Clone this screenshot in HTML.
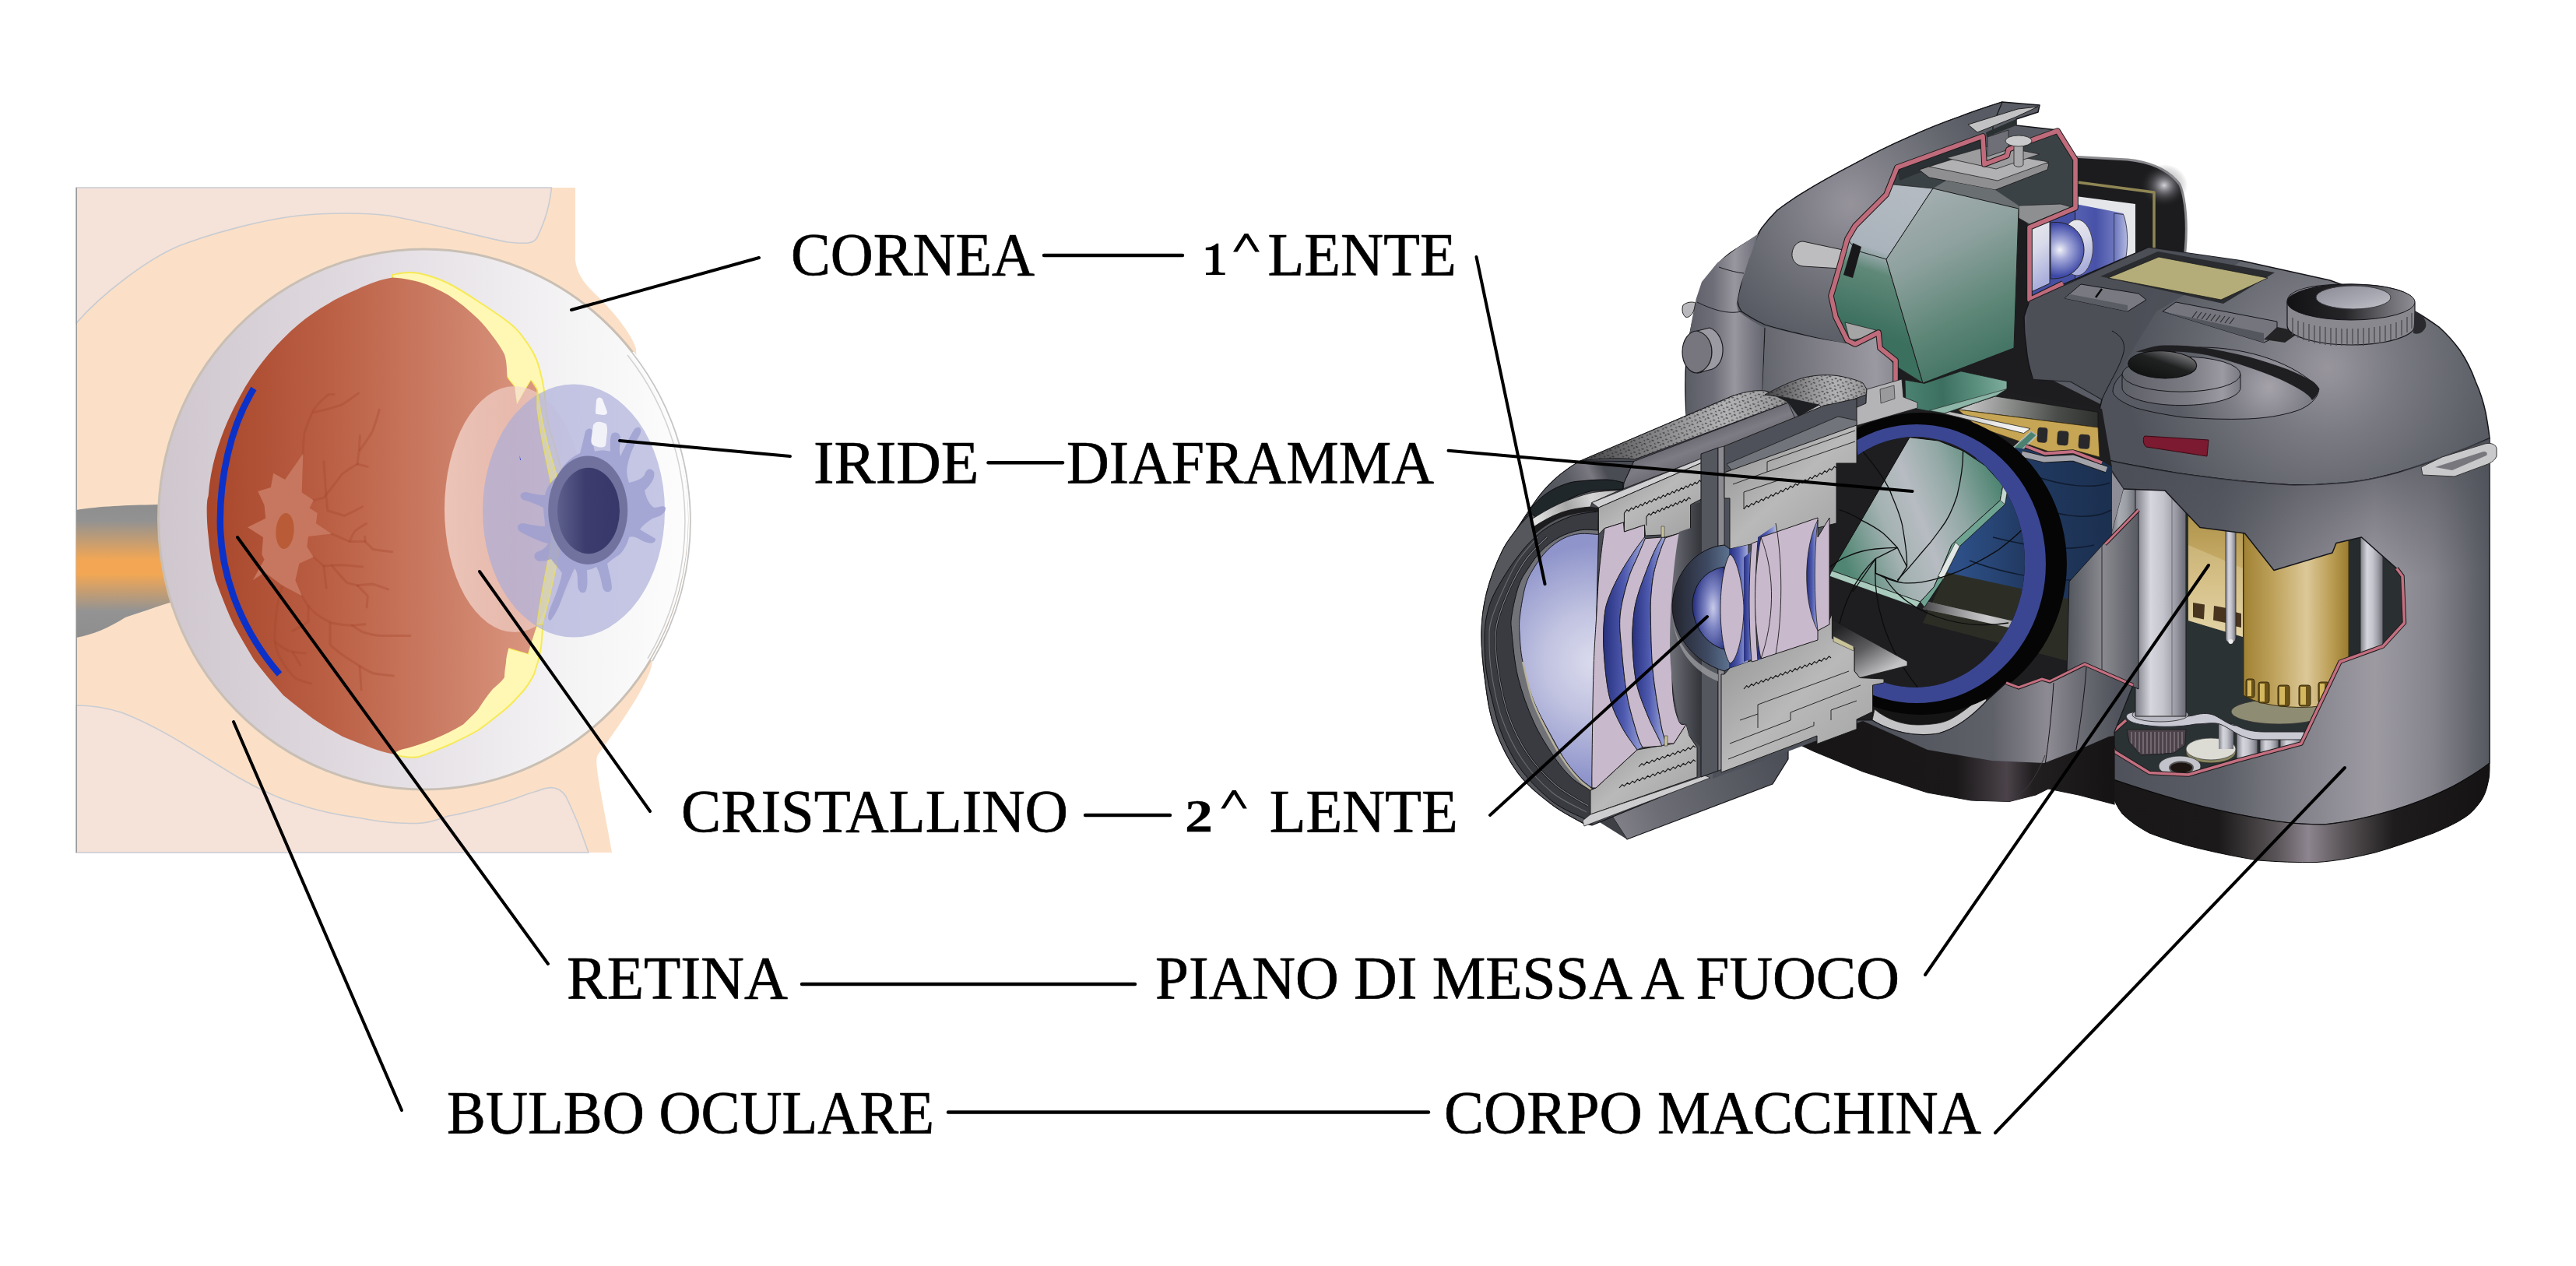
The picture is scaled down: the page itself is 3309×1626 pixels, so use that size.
<!DOCTYPE html>
<html><head><meta charset="utf-8"><title>Occhio - Macchina fotografica</title>
<style>
html,body{margin:0;padding:0;background:#fff;}
body{width:3309px;height:1626px;overflow:hidden;font-family:"Liberation Serif",serif;}
svg{display:block;position:absolute;left:0;top:0;}
text{font-family:"Liberation Serif",serif;font-size:79px;fill:#000;stroke:#000;stroke-width:0.7px;}
.ld{stroke:#000;stroke-width:4;stroke-linecap:round;fill:none;}.cn{stroke:#000;stroke-width:4.400;stroke-linecap:round;fill:none;}
</style></head><body>
<svg width="3309" height="1626" viewBox="0 0 3309 1626">
<defs>
<linearGradient id="gSclera" x1="0" y1="0" x2="1" y2="0">
<stop offset="0" stop-color="#cfc6ce"/><stop offset="0.45" stop-color="#e4dfe4"/><stop offset="0.8" stop-color="#f6f5f6"/><stop offset="1" stop-color="#fdfdfd"/>
</linearGradient>
<linearGradient id="gRed" x1="0" y1="0" x2="1" y2="0">
<stop offset="0" stop-color="#a8462b"/><stop offset="0.35" stop-color="#bb6045"/><stop offset="0.7" stop-color="#cd8068"/><stop offset="1" stop-color="#de9d88"/>
</linearGradient>
<linearGradient id="gNerve" x1="0" y1="0" x2="0" y2="1">
<stop offset="0" stop-color="#8e8e8e"/><stop offset="0.12" stop-color="#929292"/><stop offset="0.42" stop-color="#f3a754"/><stop offset="0.52" stop-color="#f3a754"/><stop offset="0.8" stop-color="#939393"/><stop offset="1" stop-color="#8e8e8e"/>
</linearGradient>
<linearGradient id="gLens" x1="0" y1="0" x2="1" y2="0">
<stop offset="0" stop-color="#f6dcd4" stop-opacity="0.75"/><stop offset="0.5" stop-color="#f3d6d0" stop-opacity="0.6"/><stop offset="1" stop-color="#efe6ee" stop-opacity="0.55"/>
</linearGradient>
<linearGradient id="gPupil" x1="0" y1="0" x2="1" y2="0">
<stop offset="0" stop-color="#5d5f8c"/><stop offset="0.45" stop-color="#3c3d6e"/><stop offset="1" stop-color="#37376a"/>
</linearGradient>
<!--DEFS-->
<radialGradient id="gBodyHi" cx="2377" cy="262" r="190" gradientUnits="userSpaceOnUse">
<stop offset="0" stop-color="#96939b"/><stop offset="0.5" stop-color="#74757d"/><stop offset="1" stop-color="#585b63"/>
</radialGradient>
<radialGradient id="gTopHi" cx="2990" cy="472" r="260" gradientUnits="userSpaceOnUse">
<stop offset="0" stop-color="#98959d"/><stop offset="0.35" stop-color="#787981"/><stop offset="1" stop-color="#4f525a"/>
</radialGradient>
<linearGradient id="gGrip" x1="2700" y1="0" x2="3200" y2="0" gradientUnits="userSpaceOnUse">
<stop offset="0" stop-color="#4d5058"/><stop offset="0.3" stop-color="#5a5d65"/><stop offset="0.52" stop-color="#84838b"/><stop offset="0.7" stop-color="#9d9aa2"/><stop offset="0.85" stop-color="#85848c"/><stop offset="1" stop-color="#54575f"/>
</linearGradient>
<linearGradient id="gBase" x1="2700" y1="0" x2="3200" y2="0" gradientUnits="userSpaceOnUse">
<stop offset="0" stop-color="#191717"/><stop offset="0.3" stop-color="#1b1919"/><stop offset="0.45" stop-color="#5a5558"/><stop offset="0.53" stop-color="#8d858f"/><stop offset="0.62" stop-color="#5a5558"/><stop offset="0.75" stop-color="#1e1c1c"/><stop offset="1" stop-color="#141212"/>
</linearGradient>
<linearGradient id="gSilver" x1="0" y1="0" x2="1" y2="0">
<stop offset="0" stop-color="#7e7e88"/><stop offset="0.3" stop-color="#d6d6de"/><stop offset="0.55" stop-color="#c4c4cc"/><stop offset="0.8" stop-color="#9a9aa4"/><stop offset="1" stop-color="#6a6a74"/>
</linearGradient>
<linearGradient id="gGold" x1="0" y1="0" x2="1" y2="0">
<stop offset="0" stop-color="#a18234"/><stop offset="0.3" stop-color="#bfa45e"/><stop offset="0.6" stop-color="#dcc898"/><stop offset="0.85" stop-color="#b89a50"/><stop offset="1" stop-color="#9a7c30"/>
</linearGradient>
<linearGradient id="gGold2" x1="0" y1="0" x2="0" y2="1">
<stop offset="0" stop-color="#a88c42"/><stop offset="0.5" stop-color="#c8ad6a"/><stop offset="1" stop-color="#e3d3a4"/>
</linearGradient>
<linearGradient id="gPrism" x1="2440" y1="240" x2="2560" y2="480" gradientUnits="userSpaceOnUse">
<stop offset="0" stop-color="#a9b1b4"/><stop offset="0.35" stop-color="#8fa29f"/><stop offset="0.7" stop-color="#5d8677"/><stop offset="1" stop-color="#3c6f5f"/>
</linearGradient>
<linearGradient id="gPrismL" x1="2440" y1="240" x2="2380" y2="420" gradientUnits="userSpaceOnUse">
<stop offset="0" stop-color="#b3bac2"/><stop offset="0.45" stop-color="#aab3bb"/><stop offset="0.6" stop-color="#5f8878"/><stop offset="1" stop-color="#3b6f5e"/>
</linearGradient>
<radialGradient id="gGlass" cx="2050" cy="850" r="150" gradientUnits="userSpaceOnUse">
<stop offset="0" stop-color="#dcdcee"/><stop offset="0.45" stop-color="#c0c2e0"/><stop offset="1" stop-color="#8f95cb"/>
</radialGradient>
<radialGradient id="gBall" cx="0.65" cy="0.5" r="0.6">
<stop offset="0" stop-color="#c9cbea"/><stop offset="0.4" stop-color="#7f86c4"/><stop offset="1" stop-color="#2c3685"/>
</radialGradient>
<linearGradient id="gBlueGap" x1="0" y1="0" x2="1" y2="0">
<stop offset="0" stop-color="#27307e"/><stop offset="0.5" stop-color="#4f5bb0"/><stop offset="1" stop-color="#a4acdc"/>
</linearGradient>
<linearGradient id="gMetal" x1="0" y1="0" x2="1" y2="1">
<stop offset="0" stop-color="#8e8e8e"/><stop offset="0.5" stop-color="#b9b9b9"/><stop offset="1" stop-color="#a0a0a0"/>
</linearGradient>
<linearGradient id="gBarrel" x1="2100" y1="560" x2="2130" y2="640" gradientUnits="userSpaceOnUse">
<stop offset="0" stop-color="#4a4c54"/><stop offset="0.5" stop-color="#7d7b83"/><stop offset="1" stop-color="#55575f"/>
</linearGradient>
<linearGradient id="gBowl" x1="0" y1="0" x2="1" y2="0">
<stop offset="0" stop-color="#23252e"/><stop offset="0.6" stop-color="#3d4860"/><stop offset="1" stop-color="#5d7390"/>
</linearGradient>
<linearGradient id="gBlade" x1="2360" y1="700" x2="2570" y2="620" gradientUnits="userSpaceOnUse">
<stop offset="0" stop-color="#4f8572"/><stop offset="0.3" stop-color="#a4b2b2"/><stop offset="0.5" stop-color="#b7bcc2"/><stop offset="0.72" stop-color="#93a9a6"/><stop offset="1" stop-color="#4c8370"/>
</linearGradient>
<linearGradient id="gNavy" x1="2520" y1="0" x2="2720" y2="0" gradientUnits="userSpaceOnUse">
<stop offset="0" stop-color="#2d4f86"/><stop offset="0.4" stop-color="#213a62"/><stop offset="1" stop-color="#1b2f4e"/>
</linearGradient>
<linearGradient id="gFront" x1="2400" y1="0" x2="2720" y2="0" gradientUnits="userSpaceOnUse">
<stop offset="0" stop-color="#4e5159"/><stop offset="0.5" stop-color="#5f6169"/><stop offset="0.72" stop-color="#8d8a93"/><stop offset="0.85" stop-color="#6b6c74"/><stop offset="1" stop-color="#50535b"/>
</linearGradient>
<linearGradient id="gWall" x1="2658" y1="0" x2="2745" y2="0" gradientUnits="userSpaceOnUse">
<stop offset="0" stop-color="#55585f"/><stop offset="0.5" stop-color="#8a8990"/><stop offset="1" stop-color="#5b5d65"/>
</linearGradient>
<pattern id="pDots" width="11" height="9" patternUnits="userSpaceOnUse" patternTransform="rotate(-22)">
<rect width="11" height="9" fill="#b2b2b4"/>
<path d="M1 1.500l2.500 1.200M6.500 5l2 1.800M2.500 6.500l1.800 -1M8 1l1 1.500" stroke="#2c2c2e" stroke-width="1.200" fill="none"/>
</pattern>
<linearGradient id="gTexShade" x1="0" y1="0" x2="1" y2="0">
<stop offset="0" stop-color="#1c1c1e" stop-opacity="0.75"/><stop offset="0.35" stop-color="#2a2a2c" stop-opacity="0.35"/><stop offset="0.7" stop-color="#555" stop-opacity="0"/><stop offset="1" stop-color="#333" stop-opacity="0.25"/>
</linearGradient>
<linearGradient id="gUnder" x1="2050" y1="1060" x2="2297" y2="960" gradientUnits="userSpaceOnUse">
<stop offset="0" stop-color="#8a8890"/><stop offset="0.3" stop-color="#6c6d75"/><stop offset="1" stop-color="#4a4d55"/>
</linearGradient>
<linearGradient id="gCav" x1="2145" y1="0" x2="2185" y2="0" gradientUnits="userSpaceOnUse">
<stop offset="0" stop-color="#6f7078"/><stop offset="1" stop-color="#33353b"/>
</linearGradient>
<radialGradient id="gVfHi" cx="0.5" cy="0.5" r="0.5"><stop offset="0" stop-color="#e8e8ee" stop-opacity="0.9"/><stop offset="0.4" stop-color="#a0a0a8" stop-opacity="0.5"/><stop offset="1" stop-color="#303034" stop-opacity="0"/></radialGradient>
<linearGradient id="gSeamShade" x1="2900" y1="600" x2="2915" y2="760" gradientUnits="userSpaceOnUse"><stop offset="0" stop-color="#4a4d55" stop-opacity="0.65"/><stop offset="0.5" stop-color="#4a4d55" stop-opacity="0.3"/><stop offset="1" stop-color="#4a4d55" stop-opacity="0"/></linearGradient>
<linearGradient id="gBase2" x1="2310" y1="0" x2="2716" y2="0" gradientUnits="userSpaceOnUse"><stop offset="0" stop-color="#171516"/><stop offset="0.5" stop-color="#1a1819"/><stop offset="0.66" stop-color="#4b4349"/><stop offset="0.74" stop-color="#221f21"/><stop offset="1" stop-color="#151314"/></linearGradient>
<linearGradient id="gShelf" x1="2372" y1="800" x2="2412" y2="868" gradientUnits="userSpaceOnUse"><stop offset="0" stop-color="#232325"/><stop offset="0.5" stop-color="#5c5c5e"/><stop offset="1" stop-color="#c2c2c4"/></linearGradient>
<linearGradient id="gRail" x1="2520" y1="520" x2="2695" y2="540" gradientUnits="userSpaceOnUse"><stop offset="0" stop-color="#c9c9c9"/><stop offset="0.35" stop-color="#8a8c8a"/><stop offset="0.7" stop-color="#4a4c4a"/><stop offset="1" stop-color="#2e302e"/></linearGradient>
<linearGradient id="gWhiteBar" x1="2497" y1="530" x2="2608" y2="552" gradientUnits="userSpaceOnUse"><stop offset="0" stop-color="#b5b5b5"/><stop offset="0.6" stop-color="#e9e9e9"/><stop offset="1" stop-color="#f6f6f6"/></linearGradient>
<linearGradient id="gTealPlate" x1="2450" y1="500" x2="2578" y2="490" gradientUnits="userSpaceOnUse"><stop offset="0" stop-color="#4a8170"/><stop offset="0.35" stop-color="#3c6f5f"/><stop offset="0.7" stop-color="#5b8f7e"/><stop offset="1" stop-color="#7fae9e"/></linearGradient>
<linearGradient id="gPanel" x1="2265" y1="480" x2="2435" y2="470" gradientUnits="userSpaceOnUse"><stop offset="0" stop-color="#63656d"/><stop offset="0.5" stop-color="#84838b"/><stop offset="0.85" stop-color="#9a98a0"/><stop offset="1" stop-color="#8a8890"/></linearGradient>
<linearGradient id="gBevel" x1="1975" y1="640" x2="2060" y2="600" gradientUnits="userSpaceOnUse"><stop offset="0" stop-color="#50525a"/><stop offset="0.5" stop-color="#5c5e66"/><stop offset="0.8" stop-color="#7a7880"/><stop offset="1" stop-color="#4a4c54"/></linearGradient>
<linearGradient id="gLipPlate" x1="1975" y1="670" x2="2075" y2="632" gradientUnits="userSpaceOnUse"><stop offset="0" stop-color="#e2e2e2"/><stop offset="0.4" stop-color="#a5a5a5"/><stop offset="0.7" stop-color="#d5d5d5"/><stop offset="1" stop-color="#bdbdbd"/></linearGradient>
<linearGradient id="gEyeLens" x1="0" y1="0" x2="0.3" y2="1"><stop offset="0" stop-color="#ececec"/><stop offset="0.5" stop-color="#d9daea"/><stop offset="1" stop-color="#a9aedb"/></linearGradient>
<linearGradient id="gEyeBlk" x1="0" y1="0" x2="1" y2="0"><stop offset="0" stop-color="#6b75bd"/><stop offset="1" stop-color="#b3b9e0"/></linearGradient>
<radialGradient id="gBall2" cx="2646" cy="321" r="34" gradientUnits="userSpaceOnUse"><stop offset="0" stop-color="#f2f2f8"/><stop offset="0.35" stop-color="#a6abda"/><stop offset="1" stop-color="#3d48a6"/></radialGradient>
<linearGradient id="gDialTop" x1="0" y1="0" x2="1" y2="0"><stop offset="0" stop-color="#121214"/><stop offset="0.45" stop-color="#252528"/><stop offset="0.8" stop-color="#6d6d73"/><stop offset="1" stop-color="#8e8e94"/></linearGradient>
<linearGradient id="gDialIn" x1="0" y1="0" x2="1" y2="1"><stop offset="0" stop-color="#8a8a94"/><stop offset="0.6" stop-color="#a9a9b3"/><stop offset="1" stop-color="#c3c3cb"/></linearGradient>
<linearGradient id="gEyeBlue" x1="2666" y1="0" x2="2731" y2="0" gradientUnits="userSpaceOnUse"><stop offset="0" stop-color="#5660b2"/><stop offset="0.4" stop-color="#4752a8"/><stop offset="0.75" stop-color="#6b75bd"/><stop offset="1" stop-color="#8e96cf"/></linearGradient>
<radialGradient id="gCollar" cx="2915" cy="497" r="120" gradientUnits="userSpaceOnUse"><stop offset="0" stop-color="#a5a2aa"/><stop offset="0.45" stop-color="#7d7d85"/><stop offset="1" stop-color="#585b63"/></radialGradient>
<linearGradient id="gDialSide" x1="2726" y1="0" x2="2878" y2="0" gradientUnits="userSpaceOnUse"><stop offset="0" stop-color="#5d5f67"/><stop offset="0.55" stop-color="#7b7b83"/><stop offset="0.85" stop-color="#9b99a1"/><stop offset="1" stop-color="#7a7a82"/></linearGradient>
<linearGradient id="gModeTop" x1="0" y1="1" x2="0.8" y2="0"><stop offset="0" stop-color="#0c0e0e"/><stop offset="0.6" stop-color="#202222"/><stop offset="0.9" stop-color="#6a6a6c"/><stop offset="1" stop-color="#8a8a8c"/></linearGradient>
<linearGradient id="gBodyLeft" x1="2165" y1="0" x2="2267" y2="0" gradientUnits="userSpaceOnUse"><stop offset="0" stop-color="#5a5c64"/><stop offset="0.35" stop-color="#6e6e78"/><stop offset="0.62" stop-color="#98969e"/><stop offset="0.85" stop-color="#777781"/><stop offset="1" stop-color="#63656d"/></linearGradient>

<!--/DEFS-->
</defs>
<rect x="0" y="0" width="3309" height="1626" fill="#ffffff"/>

<!--EYE-->
<g id="eye">
<!-- peach skin -->
<path d="M98 241H739V334C741 350 748 362 766 379C790 402 812 430 817 448L838 849C838 868 805 920 769 968C764 975 765 984 781 1067L786 1095H98Z" fill="#fbe0c7"/>
<!-- pale pink upper -->
<path d="M98 241H708.500C706 262 702 280 690 305C686 312 680 314 652 311C620 305 560 288 500 277C470 273 420 273 383 277C340 282 280 297 232 315C190 332 130 378 98 415Z" fill="#f5e2d8" stroke="#c9ccd2" stroke-width="1.6"/>
<!-- pale pink lower -->
<path d="M98 906C120 906 140 910 156 915C190 928 215 943 232 953C260 970 285 986 307 999C335 1015 360 1026 383 1033C410 1042 435 1047 459 1050C490 1056 515 1058 535 1057.500C555 1057 565 1051 576 1048C600 1044 625 1037 652 1029C665 1025 678 1019 690 1016C700 1012 707 1011 712 1012C720 1014 724 1018 727 1023C733 1035 738 1047 743 1059L756 1095H98Z" fill="#f5e2d8" stroke="#c9ccd2" stroke-width="1.6"/>
<rect x="97.400" y="241" width="1.6" height="854" fill="#9a9a9a"/>
<!-- optic nerve -->
<path d="M98 655C130 650 160 649 203 648L230 770C200 780 175 788 161 793C140 806 120 815 98 819Z" fill="url(#gNerve)"/>
<!-- sclera -->
<ellipse cx="544.500" cy="667" rx="341" ry="347" fill="url(#gSclera)" stroke="#c9bfb4" stroke-width="3"/>
<path d="M812 453A341 347 0 0 1 838 849" fill="none" stroke="#fff" stroke-width="5"/>
<path d="M812 453A341 347 0 0 1 838 849" fill="none" stroke="#c6c6c6" stroke-width="1.8"/>
<path d="M806 456A336 342 0 0 1 832 846" fill="none" stroke="#d2d2d2" stroke-width="1.500"/>
<!-- yellow band top -->
<path d="M504 353C516 350 528 349 538 351C552 354 564 358 576 364C590 371 602 379 614 387C628 396 640 404 652 413C660 419 666 425 671 432C677 440 682 447 686 455C690 463 693 472 695 482C697 489 698 496 699 502C700 509 700.500 516 701 523C702 533 704 543 707 554C710 564 713 574 716 584L722 607L708 599C704 584 700 569 697 554C695 543 694 533 693 523C692 515 691 507 689.500 500.500C688 496 685 492 682 489C679 493 677 498 674 502C671 508 668 514 664 519.500C662 512 661 504 661 497C658 493 654 489 652 485L600 420L504 357Z" fill="#fff8b4" stroke="#f6ea55" stroke-width="2"/>
<!-- yellow band bottom -->
<path d="M697 802C697 812 696 822 695 832C693 844 690 855 686 866C681 876 675 885 667 893C660 901 652 909 644 915C634 923 624 931 614 938C602 945 589 951 576 957C564 962 551 968 538 972C528 974 516 972 506 969L506 960L600 915L657 809C659 812 660 815 661 819C659 823 656 828 653.500 832C662 836 672 836 678 839.500C680 830 684 815 690 802Z" fill="#fff8b4" stroke="#f6ea55" stroke-width="2"/>
<!-- red inner -->
<path d="M504.600 356.500C516 357 527 359 538 362C551 366 564 372 576 379C590 388 602 398 614 409.500C621 416 627 424 633 432C639 440 644 447 648 455C651 464 651 474 651.600 485C654 489 658 493 661 497L664 519.500L674 502L682 489L689.500 500.500C693 530 699 560 708 590C715 612 721 640 721 660C721 700 711 740 704 770C699 790 692 800 690 802L678 839.500L653.500 832C652 838 650 845 650 851C649 857 648 864 648 870C644 876 638 880 633 885C626 893 620 902 614 911.600C608 918 601 925 595 930.500C583 938 570 944 557 949.500C546 954 534 958 523 961C517 962 511 964 504.600 968.400C495 967 487 964 478 961C465 956 452 951 440 946C427 939 414 931 402 923C389 913 376 903 364 893C351 878 338 863 326 847C317 832 308 817 300 802C291 783 284 764 277 745C272 726 269 707 267.600 688C266 675 265.500 663 265.700 650C266 646 266 641 267.600 637C269 619 272 601 277 584C281 570 286 556 292 542C299 526 307 511 315 497C324 482 334 468 345 455C357 441 370 428 383 417C395 407 408 398 421 390.600C433 383 446 377 459 371.600C474 364 489 359 504.600 356.500Z" fill="url(#gRed)"/>
<!-- vessels -->
<g fill="none" stroke="#a3452a" stroke-opacity="0.33" stroke-width="3" stroke-linecap="round" stroke-linejoin="round">
<path d="M389.300 583C389 574 390 565 391 556.300C394 546 398 536 402.600 526.400C408 519 415 512 422.500 506.500H429"/>
<path d="M402.600 529.700C415 527 427 524 439 519.800C447 515 454 510 460.600 505"/>
<path d="M402.600 642.500L415.900 639.200C424 629 432 619 439 609.300C445 604 452 600 459 596C461 584 462 572 462.300 559.600"/>
<path d="M459 596L472.200 599.400"/>
<path d="M462.300 578C468 570 474 562 478.900 553C482 544 485 535 487.200 526.400"/>
<path d="M415.900 592.700C417 608 418 624 419.200 639.200L420.800 655.800C428 658 435 660 442.400 662.400C450 659 458 655 465.600 650.800"/>
<path d="M425.800 685.600C434 689 441 692 449 695.500C451 691 453 686 455.700 682.300C460 679 465 675 470.600 672.300"/>
<path d="M449 695.500H468.900C472 699 476 702 478.900 705.500C487 707 495 708 503.700 708.800"/>
<path d="M468.900 689V695.500"/>
<path d="M402.600 715.400C407 719 411 723 415.900 727C424 726 431 725.500 439 725.400C448 726 457 727 465.600 728"/>
<path d="M415.900 727C417 736 418 746 419.200 755.200"/>
<path d="M426 726C432 734 439 741 445.700 748.600L459 751.900C463 756 468 761 472.200 765.200L471.200 780"/>
<path d="M459 751.900C466 751 472 750.500 478.900 750.300C486 752 492 755 498.800 756.900"/>
<path d="M387.700 765.200C390 770 393 774 396 778.400C399 782 402 785 405.900 788.400C412 793 419 797 425.800 800C435 802 444 803 452.300 803.300C458 803 463 802 468.900 801.700"/>
<path d="M452.300 803.300C457 806 461 809 465.600 811.600C473 814 481 816 488.800 816.600H527"/>
<path d="M424 800C424 810 424 819 424 828C428 832 432 835 435.800 838C442 843 449 847 455.700 851.400C463 856 471 861 478.900 864.700C488 866 497 867 505.400 868"/>
<path d="M462 856C463 866 463.500 876 464 886"/>
<path d="M396 778.400V798.300C390 803 383 807 376 810"/>
<path d="M362.800 752C360 761 358 770 356.200 778.400C354 793 353 807 352.800 821.500C354 830 356 838 359.500 844.800C365 855 372 864 379.400 871.300C386 874 392 876 399.300 878"/>
<path d="M354 825C360 830 366 834 372.700 836.500C379 838 386 838.500 392.600 838.800"/>
<path d="M376 838C380 844 383 849 386 854.700"/>
</g>
<!-- optic disc star -->
<path d="M389.300 582.800L387.700 632.500L402.600 642.500L397.600 652.400L407.600 659L406 672.300L425.800 685.600L396 689L394.300 702.200L402.600 715.400L384.400 723.700L379.400 745.300L387.700 765.200L362.800 751.900L340 735L324.700 745.300L339.600 718.800L336.300 712L338 690L318 677.300L341.200 665.700L339.600 649L331.300 630.900L347.900 625.900L351.200 607.700L366.100 616Z" fill="#c7775f"/>
<ellipse cx="366" cy="682" rx="11.600" ry="23" fill="#b95b37" transform="rotate(4 366 682)"/>
<!-- blue retina arc -->
<path d="M326 499C296 548 281 615 283 680C286 750 315 815 359 866" fill="none" stroke="#0b31c9" stroke-width="8.400"/>
<!-- lens -->
<ellipse cx="661" cy="654" rx="90" ry="158" fill="url(#gLens)"/>
<!-- iris -->
<ellipse cx="737" cy="656" rx="117" ry="162.500" fill="#a9abd9" fill-opacity="0.66"/>
<!-- zonule over iris -->
<path d="M690 500C694 530 700 560 709 590C716 612 722 640 722 660C722 700 712 740 705 770C700 790 697 800 697 802L690 802C692 780 700 740 706 710C712 680 712 640 706 612C700 585 694 555 690 525Z" fill="#e9e7a0" fill-opacity="0.55" stroke="#e9df55" stroke-opacity="0.8" stroke-width="1.500"/>
<!-- iris pattern -->
<path d="M716 612C722 598 732 588 745 582C748 572 750 562 752 554C756 548 762 550 762 558C762 566 762 574 764 580C770 578 778 578 784 580C784 572 783 562 786 557C792 553 798 557 797 566C796 574 795 580 797 586C802 576 808 562 815 551C822 545 826 552 821 560C814 572 808 586 806 598C804 606 806 614 808 620C816 618 824 616 828 610C830 602 836 600 840 606C842 614 836 622 828 630C830 640 834 648 840 652C846 652 852 648 855 652C856 660 846 664 838 666C832 670 826 674 822 680C828 684 836 688 842 692C842 700 832 698 824 694C818 690 812 688 808 690C806 698 802 706 796 712C790 716 784 720 780 724C782 734 786 746 786 756C784 762 776 762 774 754C772 744 770 734 766 728C762 730 758 732 754 732C754 742 756 752 752 760C746 764 742 758 742 750C742 742 742 734 738 730C734 738 728 752 722 768C718 780 712 792 707 797C702 796 704 788 708 778C714 764 720 748 722 736C718 730 712 724 708 718C702 720 696 722 690 720C684 716 686 710 692 708C698 706 702 702 704 698C694 696 682 690 670 684C662 680 664 672 672 672C682 674 692 676 700 676C700 668 698 660 698 652C690 648 680 644 672 642C666 638 668 632 676 632C684 634 692 636 700 636C702 626 708 618 716 612Z" fill="#9c9dd0" fill-opacity="0.8"/>
<!-- pupil -->
<ellipse cx="755.200" cy="655.200" rx="51" ry="69.700" fill="#71729d"/>
<ellipse cx="756" cy="656" rx="40" ry="55.300" fill="url(#gPupil)"/>
<!-- highlights -->
<path d="M766 514C768 509 772 510 774 513L780 529C780 532 778 533 775 533L767 532C765 532 765 530 765 528Z" fill="#f4f4fa"/>
<path d="M762 546C764 542 768 541 772 542L778 544C780 546 780 550 780 555L778 572C776 575 772 575 768 574L762 572C759 570 759 566 760 560Z" fill="#f1f1f8"/>
<path d="M667.500 585L669 591L668 591Z" fill="#2743c4"/>
</g>

<!--/EYE-->

<!--CAMERA-->
<g id="camera" stroke-linejoin="round">
<!-- ===== viewfinder eyepiece ===== -->
<path d="M2660 201L2733 205C2762 208 2786 218 2800 237C2808 256 2810 290 2807 323L2800 345L2660 368Z" fill="#1c1c1e" stroke="#8a8a8e" stroke-width="3"/>
<ellipse cx="2780" cy="238" rx="30" ry="27" fill="url(#gVfHi)"/>
<path d="M2668 234L2767 247V330" fill="none" stroke="#8f8654" stroke-width="3.500"/>
<path d="M2666 252L2743 262V328L2666 362Z" fill="#e4e6ea"/>
<path d="M2666 262L2727.700 274L2731 330L2666 362Z" fill="url(#gEyeBlue)"/>
<path d="M2715.600 274L2727.700 275.500C2733 290 2734 310 2731 330L2715.600 337Z" fill="url(#gEyeBlk)" stroke="#223" stroke-width="0.800"/>
<!-- eyepiece lens cell -->
<path d="M2590 292L2665 266V362L2606 388L2590 380Z" fill="#4550a4"/>
<path d="M2606 293L2633 282.500V364L2606 376.500C2595 350 2595 318 2606 293Z" fill="url(#gEyeLens)" stroke="#222" stroke-width="1"/>
<ellipse cx="2668" cy="318" rx="20.500" ry="36" fill="url(#gEyeLens)" stroke="#333" stroke-width="0.800"/>
<path d="M2634 286C2660 282 2677 300 2677 321C2677 342 2660 359 2634 358Z" fill="url(#gBall2)" stroke="#222" stroke-width="1"/>
<!-- ===== main body (left/prism housing) ===== -->
<path d="M2572 131L2620 135L2618 144L2590 153V161L2643 167L2665 205V266L2607 292V384L2760 318L2770 420L2700 640L2560 700L2330 620L2167 545C2165 520 2164 490 2166 463C2168 440 2172 420 2178 397C2181 385 2184 376 2187 370C2192 360 2197 351 2203 343C2211 334 2220 326 2230 320C2240 313 2249 308 2257 303C2259 299 2261 296 2263 293C2269 285 2276 277 2283 270C2294 262 2305 254 2317 247C2338 234 2360 222 2383 210C2405 198 2427 187 2450 177C2472 167 2494 158 2517 150C2535 143 2553 137 2572 131Z" fill="#595c64" stroke="#15151a" stroke-width="1.500"/>
<path d="M2572 131C2553 137 2535 143 2517 150C2494 158 2472 167 2450 177C2427 187 2405 198 2383 210C2360 222 2338 234 2317 247C2305 254 2294 262 2283 270C2276 277 2269 285 2263 293C2259 299 2250 320 2247 330C2242 345 2238 355 2237 363C2234 375 2232 382 2232 387C2233 393 2235 397 2237 400C2246 406 2256 412 2267 417C2283 422 2300 426 2317 430C2332 434 2348 437 2363 440L2440 445L2560 300L2560 160Z" fill="url(#gBodyHi)" stroke="#15151a" stroke-width="1.200"/>
<path d="M2259 300L2233 317.600L2206 337.500L2186 362L2178.700 384L2173 413L2167.600 448L2165.400 490L2166.500 548L2264 548L2267 421.500C2255 415 2243 408 2233 399.400L2230.700 390.600L2235 368.500L2246 335.300Z" fill="url(#gBodyLeft)"/>
<path d="M2267 421L2262.700 540" fill="none" stroke="#1a1a1e" stroke-width="1.200"/>
<path d="M2208 343C2222 348 2232 350 2240 351" fill="none" stroke="#1a1a1e" stroke-width="1"/>
<path d="M2180 388C2200 398 2220 404 2237 400" fill="none" stroke="#1a1a1e" stroke-width="1"/>
<path d="M2268 419C2300 428 2340 437 2380 442L2383 442L2413 427L2415 447L2433 463L2435 512L2398 500L2340 530L2262 545Z" fill="url(#gPanel)"/>
<!-- small lug + round button -->
<path d="M2162 392C2166 388 2174 387 2178 389L2176 398C2174 405 2168 409 2165 407C2161 404 2160 397 2162 392Z" fill="#b9b9bd" stroke="#222" stroke-width="1"/>
<ellipse cx="2180" cy="452" rx="19" ry="27" fill="#77767e" stroke="#1a1a1e" stroke-width="1.200"/>
<path d="M2180 425L2196 421C2208 425 2214 440 2213 452C2212 466 2204 474 2196 475L2180 479C2192 476 2199 465 2199 452C2199 439 2192 428 2180 425Z" fill="#9b99a1" stroke="#1a1a1e" stroke-width="1.200"/>
<!-- slot -->
<path d="M2316 310L2372 322L2365 345L2316 342C2307 341 2301 334 2302 325C2303 316 2309 310 2316 310Z" fill="#bdbdc0" stroke="#222" stroke-width="1"/>
<!-- ===== hot shoe ===== -->
<path d="M2528 160L2592 140L2618 137L2590 150L2540 170Z" fill="#c2c2c4" stroke="#222" stroke-width="1"/>
<path d="M2551 170L2590 153V161L2552 176Z" fill="#2a3032"/>

<!-- ===== interior black (mirror box / behind prism) ===== -->
<path d="M2435 470L2470 492L2587 447L2593 268L2607 292V390L2620 480L2700 520V660L2560 720L2400 560L2435 520Z" fill="#1d1d1f"/>
<!-- ===== prism cutaway interior ===== -->
<path d="M2437 215L2547 175L2549 211L2578 200L2580 192L2610 180L2643 168L2666 205V267L2607 292L2593 268L2483 242L2432 237Z" fill="#3b4246"/>
<path d="M2437 215L2547 176V196L2465 222L2440 232Z" fill="#2a3033"/>
<!-- plates -->
<path d="M2465 218L2543 193L2632 210L2630 218L2563 244L2478 228Z" fill="#8f8f91" stroke="#222" stroke-width="1"/>
<path d="M2478 214L2545 193L2632 208L2566 232Z" fill="#b1b1b3" stroke="#222" stroke-width="0.800"/>
<path d="M2500 203L2560 186L2620 198L2564 217Z" fill="#9c9c9e" stroke="#222" stroke-width="0.800"/>
<path d="M2553 176L2580 167V192L2553 201Z" fill="#6f6f77" stroke="#222" stroke-width="0.800"/>
<!-- prism top face -->
<path d="M2593 264L2647 262L2661 266L2607 288L2593 280Z" fill="#8d8f91" stroke="#222" stroke-width="0.800"/>
<path d="M2500 232L2563 244L2593 264V270L2483 242Z" fill="#6a6f72"/>
<!-- prism faces -->
<path d="M2432 237L2483 242L2423 333L2385 322L2373 307L2383 290L2423 250Z" fill="url(#gPrismL)" stroke="#1a1a1a" stroke-width="0.800"/>
<path d="M2385 322L2423 333L2470 492L2435 470L2415 447L2413 427L2383 442L2373 437L2358 407L2352 380L2358 360L2373 307Z" fill="url(#gPrismL)" stroke="#1a1a1a" stroke-width="0.800"/>
<path d="M2483 242L2593 268L2587 447L2470 492L2423 333Z" fill="url(#gPrism)" stroke="#1a1a1a" stroke-width="1"/>
<path d="M2370 414L2410 424L2395 434L2376 437Z" fill="#a5a5a5" stroke="#222" stroke-width="0.800"/>
<!-- black connector + slot end -->
<path d="M2380 312L2391 317L2380 357L2368 353Z" fill="#18181a"/>
<!-- pink outline of prism cut -->
<path d="M2435 512V463L2415 447L2413 427L2383 442L2373 437L2358 407L2352 380L2358 360L2373 307L2383 290L2423 250L2427 240L2437 215L2547 175L2549 211L2578 200L2580 192L2610 180L2643 168L2666 205V267L2607 292V385L2650 364" fill="none" stroke="#1a1a1a" stroke-width="7.600"/>
<path d="M2435 512V463L2415 447L2413 427L2383 442L2373 437L2358 407L2352 380L2358 360L2373 307L2383 290L2423 250L2427 240L2437 215L2547 175L2549 211L2578 200L2580 192L2610 180L2643 168L2666 205V267L2607 292V385L2650 364" fill="none" stroke="#bf6b7b" stroke-width="5.600"/>
<!-- screw -->
<path d="M2587 183H2599V212C2596 215 2590 215 2587 212Z" fill="#a9a9ab" stroke="#222" stroke-width="0.800"/>
<ellipse cx="2593" cy="181" rx="17" ry="7" fill="#c9c9cb" stroke="#222" stroke-width="0.800"/>
<!-- ===== top plate ===== -->
<path d="M2607 387L2760 318L2880 335L2993 360L3102 400C3113 406 3123 413 3133 420C3143 429 3152 439 3160 450C3168 462 3175 476 3180 490C3186 503 3190 516 3193 530C3195 541 3197 552 3198 563C3160 580 3120 595 3080 607C3058 613 3036 618 3013 620C2991 622 2969 623 2947 623C2925 622 2902 620 2880 618C2851 615 2822 611 2793 607C2763 602 2733 597 2703 590L2697 580C2693 570 2692 560 2693 552C2694 538 2697 525 2700 513L2660 490L2612 487C2607 474 2604 460 2603 447C2601 434 2600 420 2600 407C2602 400 2604 394 2607 387Z" fill="url(#gTopHi)" stroke="#15151a" stroke-width="1.500"/>
<path d="M2607 387L2760 318L2880 335L2770 400L2700 513L2660 490L2612 487C2604 460 2600 420 2607 387Z" fill="#4c4f57" opacity="0.85"/>
<path d="M2713 425C2726 432 2730 440 2728 452C2724 470 2710 490 2700 513" fill="none" stroke="#15151a" stroke-width="1"/>
<!-- LCD -->
<path d="M2698 355L2772 323L2922 350L2856 390Z" fill="#2a2c30"/>
<path d="M2708 357L2773 330L2913 357L2853 385Z" fill="#b4ad79" stroke="#1a1a1a" stroke-width="0.800"/>
<!-- button left of LCD -->
<path d="M2652 383L2673 365L2747 377L2757 385L2733 400Z" fill="#787981" stroke="#15151a" stroke-width="1"/>
<path d="M2652 383L2733 400V392L2660 378Z" fill="#5b5d65"/>
<path d="M2692 382L2700 371" stroke="#0a0a0a" stroke-width="2.500" fill="none"/>
<!-- slider -->
<path d="M2778 400L2795 388L2925 413V432L2908 440Z" fill="#74757d" stroke="#15151a" stroke-width="1"/>
<path d="M2778 400L2908 428V440Z" fill="#55575f"/>
<path d="M2925 420L2955 426L2935 440L2908 436Z" fill="#232326"/>
<g stroke="#2a2a2e" stroke-width="1.200"><path d="M2822 400l-6 8M2828 401l-6 8M2834 402l-6 8M2840 403l-6 8M2846 404l-6 8M2852 405l-6 8M2858 406l-6 8M2864 407l-6 8M2870 408l-6 8"/></g>
<!-- right dial -->
<path d="M2938 388C2938 370 2975 365 3020 365C3065 365 3102 375 3102 390V418C3102 432 3065 443 3020 443C2975 443 2938 432 2938 418Z" fill="#88888e" stroke="#15151a" stroke-width="1.200"/>
<path d="M3102 400C3112 404 3118 412 3116 420C3112 428 3106 430 3100 428Z" fill="#2a2a2e"/>
<ellipse cx="3020" cy="388" rx="82" ry="23" fill="url(#gDialTop)" stroke="#15151a" stroke-width="1"/>
<ellipse cx="3023" cy="382" rx="48" ry="15" fill="url(#gDialIn)" stroke="#3a3a40" stroke-width="1"/>
<g stroke="#4a4a50" stroke-width="1.300"><path d="M2945 408v22M2952 412v22M2959 414v23M2966 416v23M2973 418v23M2980 419v23M2987 420v23M2994 421v23M3001 421v23M3008 422v22M3015 422v22M3022 422v22M3029 422v22M3036 421v23M3043 421v22M3050 420v22M3057 419v22M3064 418v21M3071 416v21M3078 414v20M3085 411v20M3092 407v20M3098 402v20"/></g>
<!-- mode dial on collar -->
<path d="M2714 503C2714 476 2765 452 2826 446C2890 446 2950 468 2978.900 499C2978 512 2965 523 2949 528C2930 534 2910 537 2887.500 538C2860 539 2832 538 2805 536C2783 533 2762 529 2744 524C2728 518 2716 511 2714 503Z" fill="url(#gCollar)" stroke="#15151a" stroke-width="1"/>
<path d="M2743.800 452C2754 448 2764 445 2774.600 443.700C2792 443 2809 444 2826 445.700C2847 449 2867 453 2887.500 458C2905 463 2922 468 2939 474.500C2950 479 2960 484 2969.700 489C2974 492 2977 495 2979 499C2978 505 2975 510 2970 514C2968 510 2964 507 2959.400 503.500C2950 497 2939 492 2928.600 487C2915 481 2901 476 2887.500 471.500C2874 467 2860 462 2846.500 459C2833 455 2819 453 2805 452C2784 451 2764 451.500 2743.800 452Z" fill="#1f1f22"/>
<path d="M2726 480V498C2726 510.500 2760 520.600 2802 520.600C2844 520.600 2878 510.500 2878 498V481Z" fill="url(#gDialSide)" stroke="#15151a" stroke-width="1"/>
<ellipse cx="2802" cy="480.600" rx="76" ry="22.600" fill="url(#gDialSide)" stroke="#15151a" stroke-width="1"/>
<ellipse cx="2777.700" cy="468.300" rx="44" ry="17.500" fill="url(#gModeTop)" stroke="#0e0e10" stroke-width="1" transform="rotate(2 2777 468)"/>
<path d="M2755 560L2837 565L2835 586L2757 574C2753 572 2752 562 2755 560Z" fill="#7b1a30" stroke="#3a0a14" stroke-width="1"/>
<!-- ===== grip body ===== -->
<path d="M2697 580L2703 590C2733 597 2763 602 2793 607C2822 611 2851 615 2880 618C2902 620 2925 622 2947 623C2969 623 2991 622 3013 620C3036 618 3058 613 3080 607C3120 595 3160 580 3198 563V980C3183 992 3167 1001 3151 1010C3127 1022 3102 1032 3076 1040C3046 1049 3016 1056 2986 1059C2966 1059 2946 1058 2926 1055C2892 1050 2859 1043 2826 1035C2787 1025 2749 1013 2711 1000L2708 940V700L2728 628Z" fill="url(#gGrip)" stroke="#15151a" stroke-width="1.500"/>
<path d="M2697 580L2703 590C2733 597 2763 602 2793 607C2851 615 2902 620 2947 623C2991 622 3036 618 3080 607L3198 563V780H2708V690L2728 628Z" fill="url(#gSeamShade)"/>
<!-- base -->
<path d="M2711 1000C2749 1013 2787 1025 2826 1035C2859 1043 2892 1050 2926 1055C2946 1058 2966 1059 2986 1059C3016 1056 3046 1049 3076 1040C3102 1032 3127 1022 3151 1010C3167 1001 3183 992 3198 980C3198 990 3198 998 3196 1005C3194 1015 3191 1023 3186 1030C3180 1038 3174 1045 3166 1050C3154 1058 3140 1064 3126 1070C3101 1079 3076 1088 3051 1095C3026 1101 3001 1106 2976 1107.500C2951 1108 2926 1107 2901 1105C2876 1101 2851 1096 2826 1090C2804 1085 2782 1078 2761 1070C2748 1063 2736 1055 2726 1045C2720 1037 2716 1029 2713.500 1020Z" fill="url(#gBase)" stroke="#0a0a0a" stroke-width="1"/>

<!-- strap lug -->
<path d="M3110 600L3137 587L3192 570C3200 568 3207 571 3207 577V586C3204 592 3200 594 3196 596L3153 612L3112 610Z" fill="#c9c9cb" stroke="#333" stroke-width="1"/>
<path d="M3128 600L3190 580C3194 580 3196 582 3194 585L3150 604Z" fill="#77777d"/>

<path d="M2700 588L2728 628L2708.500 700L2711 760V600Z" fill="#8d8d97" stroke="#15151a" stroke-width="0.800"/>
<!-- ===== film chamber cutaway ===== -->
<clipPath id="cFilm"><path d="M2728 628L2781 630L2826 677.500L2883.500 685L2921 732.500L2996 710L3001 697.500L3033.500 690L3078.500 730L3086 740L3088.500 800L3061 830L3006 850L2956 955L2873 977L2811 995L2761 992.500L2716 965L2708.500 945V700Z"/></clipPath>
<g clip-path="url(#cFilm)">
<rect x="2700" y="620" width="400" height="390" fill="#2b3234"/>
<!-- right column -->
<rect x="3017" y="680" width="16" height="180" fill="#262c2e"/>
<rect x="3032" y="680" width="29" height="170" fill="url(#gSilver)" stroke="#1a1a1a" stroke-width="0.800"/>
<rect x="3061" y="690" width="30" height="160" fill="#2a3032"/>
<!-- gold film strip -->
<path d="M2811 640H2881V818L2811 797Z" fill="url(#gGold2)"/>
<path d="M2811 700L2881 730V818L2811 797Z" fill="#e6d7ab" opacity="0.350"/>
<g fill="#49341f"><path d="M2817 774l15 2.500l-1 19l-14 -3z"/><path d="M2844 778l16 3l-1 19l-16 -3.500z"/><path d="M2871 786l8 2v18l-9 -2z"/></g>
<!-- pin -->
<rect x="2859" y="660" width="13" height="165" rx="5" fill="url(#gSilver)" stroke="#222" stroke-width="0.800"/>
<circle cx="2865.500" cy="824" r="3" fill="#eee"/>
<!-- canister -->
<ellipse cx="2928" cy="914" rx="62" ry="16" fill="#8e8d73" stroke="#333" stroke-width="0.800"/>
<path d="M2882 640H3017V896C2990 914 2910 912 2882 893Z" fill="url(#gGold)" stroke="#3a2e10" stroke-width="1"/>
<g fill="#6b5218" stroke="#3a2c0c" stroke-width="1"><rect x="2885" y="872" width="11" height="24" rx="3"/><rect x="2901" y="876" width="14" height="27" rx="3"/><rect x="2926" y="880" width="15" height="27" rx="3"/><rect x="2953" y="880" width="15" height="27" rx="3"/><rect x="2978" y="876" width="14" height="27" rx="3"/></g>
<g fill="#d4b860"><rect x="2887" y="874" width="5" height="20"/><rect x="2903" y="878" width="6" height="23"/><rect x="2928" y="882" width="7" height="23"/><rect x="2955" y="882" width="7" height="23"/><rect x="2980" y="878" width="6" height="23"/></g>
<!-- small cylinders + gears bottom -->
<rect x="2850" y="930" width="19" height="42" fill="url(#gSilver)" stroke="#222" stroke-width="0.800"/>
<rect x="2873" y="940" width="27" height="40" fill="url(#gSilver)" stroke="#222" stroke-width="0.800"/>
<rect x="2903" y="945" width="24" height="30" fill="url(#gSilver)" stroke="#222" stroke-width="0.800"/>
<rect x="2929" y="945" width="28" height="30" fill="url(#gSilver)" stroke="#222" stroke-width="0.800"/>
<ellipse cx="2840" cy="966" rx="32" ry="14" fill="#8a8660" stroke="#222" stroke-width="0.800"/>
<ellipse cx="2840" cy="962" rx="32" ry="14" fill="#dcdcd4" stroke="#444" stroke-width="0.800"/>
<rect x="2850" y="930" width="19" height="32" fill="url(#gSilver)"/>
<ellipse cx="2800" cy="984" rx="27" ry="13" fill="#c3c3cb" stroke="#333" stroke-width="0.800"/>
<ellipse cx="2802" cy="986" rx="15" ry="7.500" fill="#1c1512" stroke="#555" stroke-width="2"/>
<!-- knurled gear -->
<path d="M2732 937H2808L2806.700 957L2793 967L2750 970L2735 953Z" fill="#4b4148" stroke="#1a1a1a" stroke-width="0.800"/>
<g stroke="#9a8f96" stroke-width="1"><path d="M2738 940v15M2743 940v20M2748 940v26M2753 940v28M2758 940v28M2763 940v28M2768 940v28M2773 940v28M2778 940v28M2783 940v27M2788 940v27M2793 940v25M2798 940v21M2803 940v16"/></g>
<!-- S arm -->
<path d="M2731 920C2733 914 2745 913 2760 918C2775 923 2800 922 2817 919C2830 915 2840 916 2847 920C2858 926 2865 932 2873 932C2885 938 2895 940 2910 940H2960V950H2900C2890 950 2880 946 2873 942C2863 936 2855 930 2847 929C2838 928 2830 930 2820 930C2800 934 2775 934 2760 932C2745 930 2733 928 2731 920Z" fill="#c9c9d3" stroke="#2a2a30" stroke-width="1"/>
<!-- main columns -->
<rect x="2711" y="610" width="36" height="270" fill="url(#gSilver)" opacity="0.750" stroke="#1a1a1a" stroke-width="0.800"/>
<ellipse cx="2775" cy="918" rx="36" ry="9" fill="#b9b9c3" stroke="#222" stroke-width="0.800"/>
<rect x="2743" y="615" width="65" height="305" fill="url(#gSilver)" stroke="#1a1a1a" stroke-width="1"/>
<path d="M2790 615V920" stroke="#6d6d78" stroke-width="1"/>
</g>
<!-- pink outline of film cut -->
<path d="M3078.500 730L3086 740L3088.500 800L3061 830L3006 850L2956 955L2873 977L2811 995L2761 992.500L2716 965L2708.500 945L2731 925" fill="none" stroke="#1a1a1a" stroke-width="5.500"/>
<path d="M3078.500 730L3086 740L3088.500 800L3061 830L3006 850L2956 955L2873 977L2811 995L2761 992.500L2716 965L2708.500 945L2731 925" fill="none" stroke="#c46f80" stroke-width="3.500"/>
<path d="M2728 628L2781 630L2826 677.500L2883.500 685L2921 732.500L2996 710L3001 697.500L3033.500 690L3078.500 730" fill="none" stroke="#15151a" stroke-width="1.500"/>

<!-- ===== mirror box ===== -->
<path d="M2350 595H2385V545L2447 520L2560 500L2700 525L2713 600V900L2400 935L2335 950V880Z" fill="#1e1e20"/>
<!-- dark + gold strip top -->
<path d="M2515 526L2533 519L2563 509L2695 529.300V549Z" fill="url(#gRail)" stroke="#111" stroke-width="0.800"/>
<path d="M2515 526L2695 549L2697 587L2666 578.600L2632 580L2606 571L2540 548Z" fill="#c6a554" stroke="#3a2e10" stroke-width="0.800"/>
<g fill="#29282a"><rect x="2617" y="549" width="13" height="19.500" rx="4" transform="rotate(4 2623 559)"/><rect x="2642.500" y="553.500" width="14.500" height="18.500" rx="4" transform="rotate(4 2650 563)"/><rect x="2670" y="558" width="14.500" height="18.500" rx="4" transform="rotate(4 2677 567)"/></g>
<path d="M2496 531L2499 527.500L2608 550.500L2599.500 556.500Z" fill="url(#gWhiteBar)" stroke="#222" stroke-width="0.800"/>
<path d="M2609 554L2616.500 559L2594 581L2586 575Z" fill="#4a8170" stroke="#fff" stroke-width="1.500"/>
<path d="M2609 554L2616.500 559L2594 581L2586 575Z" fill="none" stroke="#111" stroke-width="0.500"/>
<!-- navy curtains -->
<path d="M2590 575L2700 592L2713 600V700L2658 760V800L2500 760L2500 600Z" fill="url(#gNavy)"/>
<g fill="none" stroke="#101c30" stroke-width="1.500"><path d="M2610 610C2650 625 2690 628 2710 620"/><path d="M2615 650C2650 665 2690 668 2712 655"/><path d="M2560 690C2600 700 2650 710 2690 700"/><path d="M2530 720C2570 735 2620 745 2660 745"/></g>
<!-- olive floor + light stripe -->
<path d="M2500 735L2660 770V850L2470 800Z" fill="#2c2e26"/>
<path d="M2477 773L2587 798L2590 808L2470 782Z" fill="#c9c9cb"/>
<path d="M2477 773L2587 798L2590 808L2470 782Z" fill="url(#gTexShade)"/>
<!-- wall panel right -->
<path d="M2658 747L2707 693L2713 690L2747 657V885L2678 853L2655 862Z" fill="url(#gWall)" stroke="#15151a" stroke-width="1"/>
<path d="M2700 700V870" stroke="#2a2a2e" stroke-width="1"/>
<path d="M2747 655L2710 693L2704 699" fill="none" stroke="#1a1a1a" stroke-width="5"/>
<path d="M2747 655L2710 693L2704 699" fill="none" stroke="#c46f80" stroke-width="3"/>
<path d="M2597 583L2626 590L2663 588L2706 603" fill="none" stroke="#1a1a1a" stroke-width="9"/>
<path d="M2597 583L2626 590L2663 588L2706 603" fill="none" stroke="#a3a3ab" stroke-width="7"/>
<path d="M2602 573L2626.600 582.400L2663 580L2700 594.400" fill="none" stroke="#1a1a1a" stroke-width="5.500"/>
<path d="M2602 573L2626.600 582.400L2663 580L2700 594.400" fill="none" stroke="#c46f80" stroke-width="4"/>
<!-- silver flange under ring -->
<path d="M2405 905L2552 890L2552 900C2535 918 2515 935 2490 942C2460 947 2430 940 2405 925Z" fill="#151515"/>
<path d="M2408 911C2425 925 2445 931 2463 931C2480 931 2495 929 2505 924C2520 916 2535 904 2548 892L2552 900C2535 918 2515 935 2490 942C2460 947 2430 940 2405 925Z" fill="#c4c4c6" stroke="#222" stroke-width="0.800"/>
<!-- teal plate under prism -->
<path d="M2447 488L2472 492.400L2519 476.800L2578 489.600V499.500L2564.600 508L2497.800 530.800L2478 528L2462 525L2448 520Z" fill="url(#gTealPlate)" stroke="#1a1a1a" stroke-width="0.800"/>
<path d="M2578 499.500L2564.600 508L2497.800 530.800L2478 527.300Z" fill="#8db6a8" stroke="#1a1a1a" stroke-width="0.600"/>
<!-- aperture ring -->
<clipPath id="cRing"><path d="M2385 480H2720V960H2406V880L2396 720L2385 565Z"/></clipPath>
<clipPath id="cInner"><ellipse cx="2460" cy="722" rx="141" ry="161"/><rect x="2345" y="595" width="100" height="240"/></clipPath>
<g clip-path="url(#cRing)">
<path d="M2468 530A187 194 0 1 1 2467.900 530ZM2460 561A141 161 0 1 0 2460.100 561Z" fill="#050505" fill-rule="evenodd"/>
<path d="M2462 545A166 179 0 1 1 2461.900 545ZM2460 561A141 161 0 1 0 2460.100 561Z" fill="#3b4692" fill-rule="evenodd"/>
</g>
<g clip-path="url(#cInner)">
<!-- mirror/teal + blades -->
<path d="M2453 561.700L2490 566L2521.600 579L2550 598L2573 623.400L2569.400 642.600L2513.800 693L2506.900 700L2491.200 738.200L2484.300 753.800L2466.700 773L2353 733L2390 670Z" fill="url(#gBlade)" stroke="#0e0e0e" stroke-width="1"/>
<path d="M2573 623.400L2579 627L2575.500 647.800L2517.300 701.700L2496.400 743.400L2472 780L2466.700 773L2484.300 753.800L2491.200 738.200L2506.900 700L2513.800 693L2569.400 642.600Z" fill="#6fa391" stroke="#0e0e0e" stroke-width="0.800"/>
<path d="M2573 623.400L2579 627L2575.500 647.800L2569.400 642.600Z" fill="#c3d6cf" stroke="#0e0e0e" stroke-width="0.600"/>
<path d="M2512 696.400L2517.300 701.700L2496.400 743.400L2489.500 740Z" fill="#e0e7e5" stroke="#0e0e0e" stroke-width="0.600"/>
<path d="M2353 733L2466.700 773L2462 780L2350 740Z" fill="#a9cbbe" stroke="#0e0e0e" stroke-width="0.600"/>
<g fill="none" stroke="#0c0c0c" stroke-width="1.300">
<path d="M2388.700 574.800C2410 600 2425 620 2430.400 637.300C2438 655 2443 668 2444.300 679C2448 700 2450 715 2449.500 727.700"/>
<path d="M2521.600 579C2522 600 2518 620 2513.800 637.300C2508 655 2502 668 2493 679C2484 692 2475 703 2465 713.800C2456 725 2447 735 2437.300 745"/>
<path d="M2362.600 654.700C2373 658 2383 663 2392 668.600C2401 673 2410 678 2418.200 684.300C2425 690 2431 697 2437.300 703.400"/>
<path d="M2350.400 728.600C2358 722 2366 717 2374.800 713.800C2386 709 2398 706 2409.500 705C2419 704 2428 703.500 2437.300 703.400"/>
<path d="M2409.500 717.300L2437.300 703.400L2449.500 727.700L2437.300 746.800L2409.500 736.400Z"/>
<path d="M2409.500 717.300L2380 760"/>
<path d="M2409.500 736.400C2420 742 2432 747 2444.300 748.600C2460 750 2475 747 2487.800 743.400C2497 741 2505 738 2513.800 734.700C2532 727 2550 717 2566 706.900C2578 698 2590 688 2600.700 677.300"/>
<path d="M2362 805C2370 770 2385 740 2409.500 717.300"/>
<path d="M2409.500 717.300C2405 770 2420 830 2465 885"/>
<path d="M2420 740C2450 790 2520 810 2580 800"/>
</g>
</g>
</g>
<!-- ===== front lower body ===== -->
<path d="M2380 925L2405 925C2430 940 2460 947 2490 942C2515 935 2535 918 2552 900L2577 877L2593 883L2623 872L2633 875L2678 853L2740 880L2716 940L2716 1000L2716 1033L2670 1021L2631 1013L2615 1021L2581 1029.500L2532 1028L2476 1018L2393 991L2330 965L2311 956Z" fill="url(#gFront)" stroke="#15151a" stroke-width="1.200"/>
<path d="M2311 956L2393 926L2476 963L2559 977L2626 980L2670 963L2709 946L2716 945V1033L2670 1021L2631 1013L2615 1021L2581 1029.500L2532 1028L2476 1018L2393 991L2330 965Z" fill="url(#gBase2)"/>
<path d="M2638 877C2636 910 2632 950 2627 982" fill="none" stroke="#15151a" stroke-width="1"/>
<path d="M2680 857C2678 890 2672 930 2667 963" fill="none" stroke="#15151a" stroke-width="1"/>
<path d="M2627 970C2615 1000 2600 1020 2585 1026" fill="none" stroke="#3a3a3e" stroke-width="1"/>
<path d="M2577 877L2593 883L2623 872L2633 875L2678 853L2740 880" fill="none" stroke="#1a1a1a" stroke-width="5"/>
<path d="M2577 877L2593 883L2623 872L2633 875L2678 853L2740 880" fill="none" stroke="#c46f80" stroke-width="3"/>
</g>
<g id="lens" stroke-linejoin="round">
<path d="M2043 1040L2070 1047L2090 1078L2277 1007L2297 975V940L2190 960Z" fill="url(#gUnder)" stroke="#15151a" stroke-width="1.2"/>
<path d="M2050 1053L2070 1047L2090 1078Z" fill="#3e4046"/>
<path d="M2200 590L2350 540L2350 945L2297 965L2200 1000Z" fill="#4e5159"/>
<path d="M2030.0 592.0C2027.8 593.3 2022.0 596.5 2017.0 600.0C2012.0 603.5 2005.7 608.0 2000.0 613.0C1994.3 618.0 1988.0 624.3 1983.0 630.0C1978.0 635.7 1975.5 639.2 1970.0 647.0C1964.5 654.8 1956.7 667.0 1950.0 677.0C1943.3 687.0 1936.7 693.2 1930.0 707.0C1923.3 720.8 1914.5 742.3 1910.0 760.0C1905.5 777.7 1903.3 793.5 1903.0 813.0C1902.7 832.5 1905.2 856.7 1908.0 877.0C1910.8 897.3 1913.0 915.7 1920.0 935.0C1927.0 954.3 1937.8 976.7 1950.0 993.0C1962.2 1009.3 1979.2 1022.3 1993.0 1033.0C2006.8 1043.7 2026.3 1053.0 2033.0 1057.0L2045 1060L2190 1000L2190 590L2297 515L2227 508Z" fill="#4a4c53" stroke="#121216" stroke-width="1.2"/>
<path d="M2098.6 592.6L2297 517L2307 540L2185.5 589L2079.5 630L2085 628L2086.4 619Z" fill="url(#gBarrel)" stroke="#121216" stroke-width="0.8"/>
<path d="M2030 592L2227 508C2245 502 2258 501 2267 502C2282 505 2292 510 2297 517L2100 590C2085 588 2060 588 2030 592Z" fill="url(#pDots)" stroke="#1a1a1e" stroke-width="1"/>
<path d="M2030 592L2227 508C2245 502 2258 501 2267 502C2282 505 2292 510 2297 517L2100 590C2085 588 2060 588 2030 592Z" fill="url(#gTexShade)"/>
<path d="M2267 502L2290 510L2337 520L2310 535L2297 517Z" fill="#1d1f22"/>
<path d="M2267 507C2285 497 2300 490 2317 485C2335 481 2350 481 2363 483C2378 486 2388 489 2393 492L2398 500L2397 507L2343 527L2337 520L2290 510Z" fill="url(#pDots)" stroke="#1a1a1e" stroke-width="1"/>
<path d="M2267 507C2285 497 2300 490 2317 485C2335 481 2350 481 2363 483C2378 486 2388 489 2393 492L2398 500L2397 507L2343 527L2337 520L2290 510Z" fill="url(#gTexShade)"/>
<path d="M2343 527L2397 507V518L2342 542Z" fill="#4d5058" stroke="#1a1a1e" stroke-width="0.8"/>
<path d="M2310 535L2337 520L2343 527L2342 542L2317 552Z" fill="#b9b9bb" stroke="#1a1a1e" stroke-width="0.8"/>
<path d="M2398 500L2443 487L2445 510L2463 517V524L2363 553L2342 542L2397 518Z" fill="#b4b4b6" stroke="#1a1a1e" stroke-width="0.8"/>
<path d="M2415 500L2433 495L2434 512L2416 518Z" fill="#9a9a9c" stroke="#1a1a1e" stroke-width="0.6"/>
<path d="M2030.0 592.0C2027.8 593.3 2022.0 596.5 2017.0 600.0C2012.0 603.5 2005.7 608.0 2000.0 613.0C1994.3 618.0 1988.0 624.3 1983.0 630.0C1978.0 635.7 1975.5 639.2 1970.0 647.0C1964.5 654.8 1952.9 672.5 1950.0 677.0C1947.1 681.5 1952.2 674.5 1952.6 674.0L1963 660C1972 648 1978 641 1985 636C1993 630 2001 626 2010 623C2018 620 2025 619 2032 618.5C2043 617 2054 616.5 2064 616.5C2072 617 2079 618.5 2086 620L2098.6 592.6Z" fill="url(#gBevel)" stroke="#121216" stroke-width="1"/>
<path d="M1952.6 674.0C1948.8 679.5 1937.1 692.7 1930.0 707.0C1922.9 721.3 1914.5 742.3 1910.0 760.0C1905.5 777.7 1903.3 793.5 1903.0 813.0C1902.7 832.5 1905.2 856.7 1908.0 877.0C1910.8 897.3 1913.0 915.7 1920.0 935.0C1927.0 954.3 1937.8 976.7 1950.0 993.0C1962.2 1009.3 1979.2 1022.3 1993.0 1033.0C2006.8 1043.7 2026.3 1053.0 2033.0 1057.0L2045 1058L2053.4 657L1985 640Z" fill="#55575c" stroke="#101014" stroke-width="1"/>
<path d="M2053.4 657.0C2049.5 657.5 2037.0 658.6 2030.0 660.0C2023.0 661.4 2018.8 662.6 2011.7 665.6C2004.6 668.6 1994.8 672.9 1987.3 677.8C1979.8 682.7 1973.2 688.3 1966.5 695.0C1959.8 701.7 1953.5 709.7 1947.4 717.8C1941.3 725.9 1935.2 735.1 1930.0 743.8C1924.8 752.5 1919.5 761.5 1916.0 770.0C1912.5 778.5 1910.5 786.7 1909.0 795.0C1907.5 803.3 1907.0 809.2 1907.0 820.0C1907.0 830.8 1907.3 846.7 1909.0 860.0C1910.7 873.3 1913.5 885.8 1917.0 900.0C1920.5 914.2 1923.7 930.0 1930.0 945.0C1936.3 960.0 1944.2 975.8 1955.0 990.0C1965.8 1004.2 1981.5 1019.7 1995.0 1030.0C2008.5 1040.3 2029.2 1048.3 2036.0 1052.0L2045 1056L2053.4 657Z" fill="#393b40" stroke="#0e0e10" stroke-width="1"/>
<path d="M1987.0 690.0C1982.8 694.3 1969.3 706.3 1962.0 716.0C1954.7 725.7 1949.0 735.7 1943.0 748.0C1937.0 760.3 1929.7 778.0 1926.0 790.0C1922.3 802.0 1921.2 807.5 1921.0 820.0C1920.8 832.5 1922.2 848.3 1925.0 865.0C1927.8 881.7 1931.8 902.8 1938.0 920.0C1944.2 937.2 1952.0 953.3 1962.0 968.0C1972.0 982.7 1985.0 996.8 1998.0 1008.0C2011.0 1019.2 2033.0 1030.5 2040.0 1035.0" fill="none" stroke="#0e0e10" stroke-width="2.6"/>
<path d="M1987.0 690.0C1982.8 694.3 1969.3 706.3 1962.0 716.0C1954.7 725.7 1949.0 735.7 1943.0 748.0C1937.0 760.3 1929.7 778.0 1926.0 790.0C1922.3 802.0 1921.2 807.5 1921.0 820.0C1920.8 832.5 1922.2 848.3 1925.0 865.0C1927.8 881.7 1931.8 902.8 1938.0 920.0C1944.2 937.2 1952.0 953.3 1962.0 968.0C1972.0 982.7 1985.0 996.8 1998.0 1008.0C2011.0 1019.2 2033.0 1030.5 2040.0 1035.0" fill="none" stroke="#77797e" stroke-width="1.3"/>
<path d="M1975.0 690.0C1970.8 695.0 1957.2 709.2 1950.0 720.0C1942.8 730.8 1937.7 742.5 1932.0 755.0C1926.3 767.5 1919.2 783.8 1916.0 795.0C1912.8 806.2 1913.0 810.3 1913.0 822.0C1913.0 833.7 1913.3 848.3 1916.0 865.0C1918.7 881.7 1922.5 903.7 1929.0 922.0C1935.5 940.3 1944.2 959.0 1955.0 975.0C1965.8 991.0 1980.2 1006.7 1994.0 1018.0C2007.8 1029.3 2030.7 1038.8 2038.0 1043.0" fill="none" stroke="#6a6c70" stroke-width="1.1"/>
<path d="M2053.4 681.0C2049.3 681.0 2037.4 679.5 2029.0 681.0C2020.6 682.5 2011.1 685.7 2003.0 690.0C1994.9 694.3 1987.1 700.3 1980.4 707.0C1973.7 713.7 1967.9 722.4 1963.0 730.0C1958.1 737.6 1954.3 742.5 1950.8 752.5C1947.3 762.5 1943.5 779.9 1942.0 790.0C1940.5 800.1 1940.7 799.7 1942.0 813.0C1943.3 826.3 1945.3 851.0 1950.0 870.0C1954.7 889.0 1962.2 909.8 1970.0 927.0C1977.8 944.2 1988.7 960.8 1997.0 973.0C2005.3 985.2 2012.3 993.0 2020.0 1000.0C2027.7 1007.0 2039.2 1012.5 2043.0 1015.0L2053.4 681Z" fill="#707277" stroke="#101014" stroke-width="1"/>
<path d="M2053.4 686.5C2049.3 686.4 2036.6 684.7 2029.0 685.6C2021.4 686.5 2015.0 688.1 2008.0 691.7C2001.0 695.3 1993.6 700.6 1987.3 707.0C1981.0 713.4 1974.6 722.4 1970.0 730.0C1965.4 737.6 1962.4 742.5 1959.5 752.5C1956.6 762.5 1953.8 779.9 1952.6 790.0C1951.3 800.1 1951.4 803.0 1952.0 813.0C1952.6 823.0 1953.0 835.5 1956.0 850.0C1959.0 864.5 1963.2 882.8 1970.0 900.0C1976.8 917.2 1989.8 939.7 1997.0 953.0C2004.2 966.3 2007.5 972.2 2013.0 980.0C2018.5 987.8 2024.7 994.7 2030.0 1000.0C2035.3 1005.3 2042.5 1010.0 2045.0 1012.0L2053.4 686.5Z" fill="url(#gGlass)" stroke="#1a1a2a" stroke-width="1"/>
<path d="M1956.0 850.0C1958.3 858.8 1963.3 885.3 1970.0 903.0C1976.7 920.7 1988.8 942.7 1996.0 956.0C2003.2 969.3 2007.3 975.2 2013.0 983.0C2018.7 990.8 2024.8 997.8 2030.0 1003.0C2035.2 1008.2 2041.7 1012.2 2044.0 1014.0" fill="none" stroke="#b9b29a" stroke-width="2.4"/>
<path d="M1963 657C1972 646 1978 640 1985 635C1993 629 2001 625 2010 622C2018 619 2025 618 2032 617.8C2043 616.5 2054 616 2064 616C2072 616.5 2079 618 2085 620V628C2072 629 2059 629.5 2046 630C2034 633 2022 637 2012 643C1998 649 1985 656 1973 664Z" fill="#20272a" stroke="#0c0c0e" stroke-width="1"/>
<path d="M1966 668C1978 660 1990 653 2003 647C2017 641 2031 636 2046 632.6C2057 631 2068 630 2079.5 630L2044.7 645.6L2043 651C2030 652 2018 654 2006 658C1992 663 1980 670 1968 678Z" fill="url(#gLipPlate)" stroke="#1a1a1a" stroke-width="0.8"/>
<path d="M1968 678C1980 670 1992 663 2006 658C2018 654 2030 652 2043 651L2053.4 652V657C2035 657 2020 660 2008 664C1994 669 1982 677 1972 686Z" fill="#1c1c1e"/>
<path d="M2044.7 645.6L2185.5 589V594.500L2053.4 652Z" fill="#cfcfd1" stroke="#222" stroke-width="0.8"/>
<path d="M2053.4 652L2185.500 594.500V641L2172 648V681L2157 685L2139 690L2135 687L2113.400 688L2112.500 674.300L2086.400 683V670.800L2061 678.600L2053.400 686.500Z" fill="url(#gMetal)" stroke="#1a1a1a" stroke-width="1"/>
<path d="M2043 1015L2050 1012L2103 963L2132 958L2150 955L2166 930L2170 945L2180 960V998L2043 1046Z" fill="url(#gMetal)" stroke="#1a1a1a" stroke-width="1"/>
<path d="M2033 1054L2043 1046L2190 996L2197 999L2035 1061Z" fill="#cdcdcf" stroke="#222" stroke-width="0.8"/>
<path d="M2061 678.6L2085.5 671L2086.4 683L2112.5 674.3L2112.5 690C2110.2 693.2 2103.8 701.2 2098.6 709.0C2093.3 716.8 2086.2 727.5 2081.0 737.0C2075.8 746.5 2070.6 757.2 2067.3 766.0C2064.0 774.8 2062.4 778.8 2061.2 790.0C2060.0 801.2 2059.0 815.8 2060.0 833.0C2061.0 850.2 2063.2 876.3 2067.0 893.0C2070.8 909.7 2077.0 921.3 2083.0 933.0C2089.0 944.7 2099.7 958.0 2103.0 963.0L2050 1012L2045 1012C2045.0 1007.0 2044.7 1007.3 2045.0 982.0C2045.3 956.7 2046.0 892.0 2047.0 860.0C2048.0 828.0 2049.7 809.3 2050.8 790.0C2051.9 770.7 2052.4 757.5 2053.4 744.0C2054.4 730.5 2055.7 719.9 2057.0 709.0C2058.3 698.1 2060.3 683.7 2061.0 678.6Z" fill="#c9b9cc" stroke="#1a1a1a" stroke-width="1"/>
<path d="M2112.5 690.0C2110.2 693.2 2103.8 701.2 2098.6 709.0C2093.3 716.8 2086.2 727.5 2081.0 737.0C2075.8 746.5 2070.6 757.2 2067.3 766.0C2064.0 774.8 2062.4 778.8 2061.2 790.0C2060.0 801.2 2059.0 815.8 2060.0 833.0C2061.0 850.2 2063.2 876.3 2067.0 893.0C2070.8 909.7 2077.0 921.3 2083.0 933.0C2089.0 944.7 2099.7 958.0 2103.0 963.0L2110 960C2108.8 957.2 2106.3 954.2 2103.0 943.0C2099.7 931.8 2093.3 911.3 2090.0 893.0C2086.7 874.7 2084.5 850.2 2083.0 833.0C2081.5 815.8 2079.8 804.9 2081.2 790.0C2082.6 775.1 2087.8 756.4 2091.6 743.8C2095.4 731.2 2100.2 723.0 2103.8 714.3C2107.4 705.6 2111.8 695.5 2113.4 691.7Z" fill="url(#gBlueGap)" stroke="#1a1a1a" stroke-width="0.8"/>
<path d="M2113.4 691.7C2111.8 695.5 2107.4 705.6 2103.8 714.3C2100.2 723.0 2095.4 731.2 2091.6 743.8C2087.8 756.4 2082.6 775.1 2081.2 790.0C2079.8 804.9 2081.5 815.8 2083.0 833.0C2084.5 850.2 2086.7 874.7 2090.0 893.0C2093.3 911.3 2099.7 931.8 2103.0 943.0C2106.3 954.2 2108.8 957.2 2110.0 960.0L2135 958C2134.2 956.2 2133.0 953.3 2130.0 947.0C2127.0 940.7 2121.7 931.7 2117.0 920.0C2112.3 908.3 2105.3 892.5 2102.0 877.0C2098.7 861.5 2097.6 841.5 2097.0 827.0C2096.4 812.5 2097.5 800.4 2098.6 790.0C2099.7 779.6 2101.2 773.9 2103.8 764.7C2106.4 755.5 2110.7 744.3 2114.2 735.0C2117.7 725.7 2121.2 716.5 2124.7 709.0C2128.2 701.5 2133.3 693.2 2135.0 690.0Z" fill="#c9b9cc" stroke="#1a1a1a" stroke-width="1"/>
<path d="M2135.0 690.0C2133.3 693.2 2128.2 701.5 2124.7 709.0C2121.2 716.5 2117.7 725.7 2114.2 735.0C2110.7 744.3 2106.4 755.5 2103.8 764.7C2101.2 773.9 2099.7 779.6 2098.6 790.0C2097.5 800.4 2096.4 812.5 2097.0 827.0C2097.6 841.5 2098.7 861.5 2102.0 877.0C2105.3 892.5 2112.3 908.3 2117.0 920.0C2121.7 931.7 2127.0 940.7 2130.0 947.0C2133.0 953.3 2134.2 956.2 2135.0 958.0L2140 955C2138.8 950.3 2135.8 942.8 2133.0 927.0C2130.2 911.2 2125.1 882.8 2123.0 860.0C2120.9 837.2 2120.6 806.5 2120.3 790.0C2120.0 773.5 2120.5 770.2 2121.2 761.0C2121.9 751.8 2122.7 744.2 2124.7 735.0C2126.7 725.8 2130.9 713.0 2133.4 705.6C2135.9 698.2 2138.4 693.3 2139.4 690.8Z" fill="url(#gBlueGap)" stroke="#1a1a1a" stroke-width="0.8"/>
<path d="M2157.7 684.7C2157.4 688.8 2156.9 699.1 2156.0 709.0C2155.1 718.9 2153.4 730.5 2152.5 744.0C2151.6 757.5 2151.4 776.2 2150.7 790.0C2149.9 803.8 2148.3 809.8 2148.0 827.0C2147.7 844.2 2147.5 876.3 2149.0 893.0C2150.5 909.7 2154.2 920.8 2157.0 927.0C2159.8 933.2 2164.5 929.5 2166.0 930.0L2150 955L2140 955C2138.8 950.3 2135.8 942.8 2133.0 927.0C2130.2 911.2 2125.1 882.8 2123.0 860.0C2120.9 837.2 2120.6 806.5 2120.3 790.0C2120.0 773.5 2120.5 770.2 2121.2 761.0C2121.9 751.8 2122.7 744.2 2124.7 735.0C2126.7 725.8 2130.9 713.0 2133.4 705.6C2135.9 698.2 2138.4 693.3 2139.4 690.8Z" fill="#c9b9cc" stroke="#1a1a1a" stroke-width="1"/>
<path d="M2134 676h4v14h-4zM2138 945h4v13h-4z" fill="#c9c39a" stroke="#333" stroke-width="0.6"/>
<path d="M2086.4 659.0L2089.9 654.6L2092.2 656.6L2095.7 652.2L2098.1 654.3L2101.6 649.9L2103.9 651.9L2107.4 647.5L2109.7 649.6L2113.2 645.2L2115.5 647.2L2119.0 642.8L2121.4 644.9L2124.9 640.5L2127.2 642.5L2130.7 638.1L2133.0 640.2L2136.5 635.8L2138.9 637.8L2142.4 633.4L2144.7 635.5L2148.2 631.1L2150.5 633.1L2154.0 628.7L2156.4 630.8L2159.9 626.4L2162.2 628.4L2165.7 624.0L2168.0 626.1L2171.5 621.6L2173.8 623.7L2177.3 619.3L2179.7 621.4L2183.2 616.9L2185.5 619.0" fill="none" stroke="#111" stroke-width="1.1"/>
<path d="M2114.8 664.0L2118.2 659.6L2120.5 661.7L2123.9 657.3L2126.2 659.4L2129.6 655.0L2131.8 657.1L2135.2 652.7L2137.5 654.8L2140.9 650.4L2143.2 652.5L2146.6 648.1L2148.9 650.2L2152.3 645.8L2154.6 647.9L2158.0 643.5L2160.2 645.6L2163.6 641.2L2165.9 643.3L2169.3 638.9L2171.6 641.0" fill="none" stroke="#111" stroke-width="1.1"/>
<path d="M2086.4 659V672M2114.800 664V675M2171.600 648V681" stroke="#111" stroke-width="1" fill="none"/>
<path d="M2080.0 1012.0L2083.9 1007.6L2086.5 1009.7L2090.5 1005.4L2093.1 1007.5L2097.0 1003.1L2099.6 1005.2L2103.5 1000.8L2106.1 1002.9L2110.1 998.6L2112.7 1000.7L2116.6 996.3L2119.2 998.4L2123.1 994.0L2125.7 996.1L2129.7 991.8L2132.3 993.9L2136.2 989.5L2138.8 991.6L2142.7 987.2L2145.3 989.3L2149.3 985.0L2151.9 987.1L2155.8 982.7L2158.4 984.8L2162.3 980.4L2164.9 982.5L2168.9 978.2L2171.5 980.3L2175.4 975.9L2178.0 978.0" fill="none" stroke="#111" stroke-width="1.1"/>
<path d="M2105.0 985.0L2109.0 980.6L2111.6 982.7L2115.6 978.4L2118.3 980.5L2122.3 976.1L2124.9 978.2L2128.9 973.8L2131.5 975.9L2135.5 971.5L2138.2 973.6L2142.2 969.3L2144.8 971.4L2148.8 967.0L2151.5 969.1L2155.4 964.7L2158.1 966.8L2162.1 962.5L2164.7 964.5L2168.7 960.2L2171.4 962.3L2175.3 957.9L2178.0 960.0" fill="none" stroke="#111" stroke-width="1.1"/>
<path d="M2185 583L2207 575V990L2185 998Z" fill="#54575e" stroke="#15151a" stroke-width="1"/>
<path d="M2207 575L2215 573V987L2207 990Z" fill="#8a8a90" stroke="#15151a" stroke-width="0.8"/>
<path d="M2157 683L2172 678V648L2185 645V960L2170 945L2166 930L2157 927C2150 893 2145 860 2145 827C2145 780 2150 720 2157 683Z" fill="url(#gCav)"/>
<path d="M2215 700C2180 703 2150 735 2148 777C2148 815 2175 850 2215 862L2222 858V705Z" fill="url(#gBowl)" stroke="#101014" stroke-width="1"/>
<path d="M2148 790C2152 830 2180 855 2207 866L2207 875C2175 862 2152 835 2148 790Z" fill="#9a9aa0" opacity="0.8"/>
<path d="M2215 728C2190 732 2174 752 2174 778C2175 805 2192 828 2215 834Z" fill="url(#gBall)" stroke="#101014" stroke-width="1"/>
<path d="M2215 573L2343 521L2385 512V546L2215 607Z" fill="#4e5159" stroke="#1a1a1a" stroke-width="1"/>
<path d="M2218 596L2361 535L2385 540V547L2224.8 604.4Z" fill="#72747c" stroke="#1a1a1a" stroke-width="0.8"/>
<path d="M2215 607L2385 546V595H2359V672L2245 700L2222 705V640L2215 640Z" fill="url(#gMetal)" stroke="#1a1a1a" stroke-width="1"/>
<path d="M2353.4 796L2450 849.5V855L2389 870.5L2382 862V832L2353.4 820Z" fill="url(#gShelf)" stroke="#1a1a1a" stroke-width="0.8"/>
<path d="M2215 866L2222 858L2245 850L2331 823L2332.5 806L2348 801L2353.4 788V820L2382 832V862L2389 870.5L2420 872V877L2405.5 880V914L2385 924V936.5L2334 955.5V945L2311.7 954L2211 992V866Z" fill="url(#gMetal)" stroke="#1a1a1a" stroke-width="1"/>
<path d="M2220 975L2330 932V927M2222 955L2300 925L2300 915L2390 880M2258 935V905L2375 862M2235 925L2258 917M2352 925V912L2385 900" fill="none" stroke="#1a1a1a" stroke-width="0.9"/>
<path d="M2226 622L2270 606V593L2383 553M2270 606L2383 567M2240 654V632L2290 615" fill="none" stroke="#1a1a1a" stroke-width="0.9"/>
<path d="M2240.0 654.0L2243.8 649.3L2246.3 651.2L2250.0 646.5L2252.5 648.4L2256.3 643.7L2258.8 645.6L2262.5 641.0L2265.1 642.8L2268.8 638.2L2271.3 640.1L2275.1 635.4L2277.6 637.3L2281.3 632.6L2283.8 634.5L2287.6 629.8L2290.1 631.7L2293.9 627.0L2296.4 628.9L2300.1 624.2L2302.6 626.1L2306.4 621.4L2308.9 623.3L2312.7 618.6L2315.2 620.5L2318.9 615.9L2321.4 617.7L2325.2 613.1L2327.7 614.9L2331.4 610.3L2333.9 612.2L2337.7 607.5L2340.2 609.4L2344.0 604.7L2346.5 606.6L2350.2 601.9L2352.7 603.8L2356.5 599.1L2359.0 601.0" fill="none" stroke="#111" stroke-width="1.1"/>
<path d="M2240.0 885.0L2243.7 880.7L2246.2 882.8L2250.0 878.4L2252.4 880.6L2256.2 876.2L2258.7 878.3L2262.4 874.0L2264.9 876.1L2268.6 871.8L2271.1 873.9L2274.8 869.6L2277.3 871.7L2281.1 867.3L2283.6 869.4L2287.3 865.1L2289.8 867.2L2293.5 862.9L2296.0 865.0L2299.7 860.7L2302.2 862.8L2306.0 858.4L2308.4 860.6L2312.2 856.2L2314.7 858.3L2318.4 854.0L2320.9 856.1L2324.6 851.8L2327.1 853.9L2330.8 849.6L2333.3 851.7L2337.1 847.3L2339.6 849.4L2343.3 845.1L2345.8 847.2L2349.5 842.9L2352.0 845.0" fill="none" stroke="#111" stroke-width="1.1"/>
<path d="M2222 705L2245 700V850L2222 858Z" fill="url(#gBlueGap)"/>
<path d="M2222 712C2232 715 2240 760 2240 782C2240 810 2232 850 2222 852C2214 840 2210 810 2210 782C2210 755 2214 725 2222 712Z" fill="#c9b9cc" stroke="#1a1a1a" stroke-width="0.9"/>
<path d="M2240 716L2253 705V845L2240 850Z" fill="url(#gBlueGap)"/>
<path d="M2250 698L2258 695C2254 740 2254 800 2258 848L2250 850C2246 800 2246 745 2250 698Z" fill="#c9b9cc" stroke="#1a1a1a" stroke-width="0.9"/>
<path d="M2258 690L2280 675V840L2258 848Z" fill="url(#gBlueGap)"/>
<path d="M2262 690L2335 665V690L2350 665V802L2335 810V822L2262 846C2270 800 2270 740 2262 690Z" fill="#c9b9cc" stroke="#1a1a1a" stroke-width="1"/>
<path d="M2262 690C2252 740 2252 800 2262 846C2278 800 2282 740 2262 690Z" fill="#c9b9cc" stroke="#1a1a1a" stroke-width="0.9"/>
<path d="M2281 672C2290 720 2290 790 2281 840" fill="none" stroke="#1a1a1a" stroke-width="0.9"/>
<path d="M2335 668C2318 700 2314 770 2335 810C2330 770 2330 710 2335 668Z" fill="url(#gBlueGap)" stroke="#1a1a1a" stroke-width="0.8"/>
<path d="M2355 817L2381 830V836L2355 824Z" fill="#c9c39a" stroke="#333" stroke-width="0.6"/>
</g>
<!--/CAMERA-->

<!--LABELS-->
<g id="labels">
<text x="1016" y="352.8" textLength="313" lengthAdjust="spacingAndGlyphs">CORNEA</text>
<path d="M1548.800 318C1555 318 1559 316 1562.500 312.800L1565.200 312.800L1565.200 347.500C1565.200 350 1567 350.300 1573.700 350.300L1573.700 353.100L1549 353.100L1549 350.300C1556 350.300 1557.800 350 1557.800 347.500L1557.800 321.200L1548.800 321.200Z" fill="#000"/>
<path d="M1584 323.400L1598.600 300.100L1603.300 300.100L1618 323.400L1612.400 323.400L1601 305.300L1589.500 323.400Z" fill="#000"/>
<text x="1628.600" y="352.800" textLength="242" lengthAdjust="spacingAndGlyphs">LENTE</text>
<text x="1045" y="620" textLength="212.500" lengthAdjust="spacingAndGlyphs">IRIDE</text>
<text x="1370" y="620" textLength="472" lengthAdjust="spacingAndGlyphs">DIAFRAMMA</text>
<text x="875" y="1067.800" textLength="497" lengthAdjust="spacingAndGlyphs">CRISTALLINO</text>
<text x="1522" y="1068.100" textLength="36" lengthAdjust="spacingAndGlyphs" style="font-size:60px;font-weight:bold;stroke-width:0.3px">2</text>
<path d="M1568.300 1038.400L1582.900 1015.100L1587.600 1015.100L1601.900 1038.400L1596.800 1038.400L1585.300 1020.300L1573.500 1038.400Z" fill="#000"/>
<text x="1630.700" y="1067.800" textLength="242" lengthAdjust="spacingAndGlyphs">LENTE</text>
<text x="728" y="1282.300" textLength="284" lengthAdjust="spacingAndGlyphs">RETINA</text>
<text x="1484" y="1282.300" textLength="956" lengthAdjust="spacingAndGlyphs">PIANO DI MESSA A FUOCO</text>
<text x="574" y="1454.800" textLength="626" lengthAdjust="spacingAndGlyphs">BULBO OCULARE</text>
<text x="1855" y="1454.800" textLength="690" lengthAdjust="spacingAndGlyphs">CORPO MACCHINA</text>
<path class="cn" d="M1341 328H1519"/>
<path class="cn" d="M1269.500 594.200H1365"/>
<path class="cn" d="M1394 1047H1503"/>
<path class="cn" d="M1030 1264H1458"/>
<path class="cn" d="M1218 1428.5H1835"/>
<path class="ld" d="M734 398L975 331"/>
<path class="ld" d="M796 566L1015 586"/>
<path class="ld" d="M616 734L835 1042"/>
<path class="ld" d="M305 690L704 1238"/>
<path class="ld" d="M300 927L516 1426"/>
<path class="ld" d="M1896.500 330L1984.500 750"/>
<path class="ld" d="M1860.500 578.800L2456.500 631"/>
<path class="ld" d="M1914 1047L2193 792"/>
<path class="ld" d="M2473 1252L2837 726"/>
<path class="ld" d="M2563 1455L3012 986"/>
</g>
<!--/LABELS-->
</svg>
</body></html>
